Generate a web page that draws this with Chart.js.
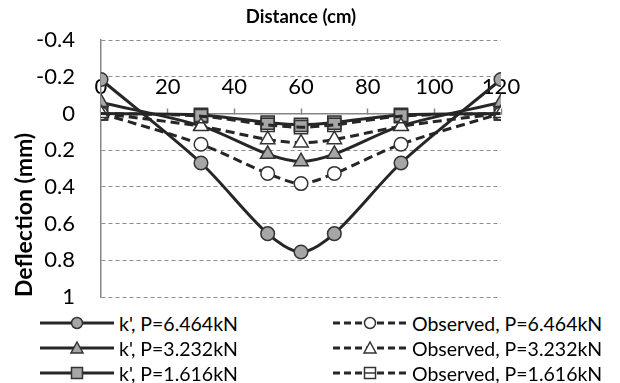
<!DOCTYPE html>
<html>
<head>
<meta charset="utf-8">
<script src="https://cdn.jsdelivr.net/npm/chart.js@4.4.1/dist/chart.umd.min.js"></script>
<style>
  html, body { margin: 0; padding: 0; background: #fff; }
  #wrap { position: relative; width: 620px; height: 383px; overflow: hidden; }
  #chart-box { position: absolute; left: 0; top: 0; width: 620px; height: 310px; }
  .key { position: absolute; height: 22px; display: flex; align-items: center;
         font-family: Lato, sans-serif; font-size: 19.5px; color: #000; white-space: nowrap; }
  .key canvas { margin-right: 5px; }
</style>
</head>
<body>
<div id="wrap">
  <div id="chart-box"><canvas id="deflection-chart"></canvas></div>
  <div id="legend"></div>
</div>
<script>
// distance along the beam (cm)
const distances = [0, 30, 50, 60, 70, 90, 120];

// deflection (mm)
const k6464 = [-0.185, 0.27, 0.655, 0.755, 0.655, 0.27, -0.185];
const k3232 = [-0.06, 0.068, 0.222, 0.262, 0.222, 0.068, -0.06];
const k1616 = [0, 0.008, 0.05, 0.062, 0.05, 0.008, 0];
const obs6464 = [0, 0.168, 0.327, 0.382, 0.327, 0.168, 0];
const obs3232 = [0, 0.07, 0.142, 0.16, 0.142, 0.07, 0];
const obs1616 = [0, 0.015, 0.062, 0.075, 0.062, 0.015, 0];

const xTicks = [0, 20, 40, 60, 80, 100, 120];
const yTicks = ['-0.4', '-0.2', '0', '0.2', '0.4', '0.6', '0.8', '1'];

const LINE = '#262626';
const GREY = '#a6a6a6';
const AXIS = '#868686';
const FONT = 'Lato, "Open Sans", sans-serif';

const seriesList = [
  { label: "k', P=6.464kN", values: k6464, shape: 'circle', fill: GREY, dashed: false, col: 0, row: 0 },
  { label: "k', P=3.232kN", values: k3232, shape: 'triangle', fill: GREY, dashed: false, col: 0, row: 1 },
  { label: "k', P=1.616kN", values: k1616, shape: 'rect', fill: GREY, dashed: false, col: 0, row: 2 },
  { label: 'Observed, P=6.464kN', values: obs6464, shape: 'circle', fill: '#ffffff', dashed: true, col: 1, row: 0 },
  { label: 'Observed, P=3.232kN', values: obs3232, shape: 'triangle', fill: '#ffffff', dashed: true, col: 1, row: 1 },
  { label: 'Observed, P=1.616kN', values: obs1616, shape: 'rect', fill: 'rgba(255,255,255,0)', dashed: true, col: 1, row: 2 }
];

const radiusFor = { circle: 6.8, triangle: 8.3, rect: 9.3 };

const datasets = seriesList.map((s, i) => ({
  label: s.label,
  data: distances.map((d, j) => ({ x: d, y: s.values[j] })),
  xAxisID: 'x',
  yAxisID: 'y',
  borderColor: LINE,
  borderWidth: 3,
  borderDash: s.dashed ? [9, 5] : [],
  tension: 0.3,
  fill: false,
  pointStyle: s.shape,
  pointRadius: radiusFor[s.shape],
  pointBackgroundColor: s.fill,
  pointBorderColor: '#333333',
  pointBorderWidth: 1.5,
  order: seriesList.length - i
}));

new Chart(document.getElementById('deflection-chart'), {
  type: 'line',
  data: { datasets: datasets },
  options: {
    responsive: true,
    maintainAspectRatio: false,
    animation: false,
    layout: { padding: { left: 0, right: 119, top: 0, bottom: 13 } },
    plugins: {
      legend: { display: false },
      tooltip: { enabled: false },
      title: {
        display: true,
        text: 'Distance (cm)',
        fullSize: false,
        color: '#000',
        font: { family: FONT, size: 18.5, weight: 'bold' },
        padding: { top: 6, bottom: 11.8 }
      }
    },
    scales: {
      // axis line at y = 0 with small upward tick marks, under the series
      x: {
        type: 'linear',
        position: { y: 0 },
        min: xTicks[0],
        max: xTicks[xTicks.length - 1],
        afterBuildTicks: scale => { scale.ticks = xTicks.map(v => ({ value: v })); },
        ticks: { display: false },
        grid: { drawOnChartArea: false, drawTicks: true, tickLength: -6, tickColor: AXIS, tickWidth: 1.5 },
        border: { display: true, color: AXIS, width: 1.5 }
      },
      // distance labels, drawn over the series like in the original
      xLabels: {
        type: 'linear',
        axis: 'x',
        position: { y: 0 },
        z: 1,
        min: xTicks[0],
        max: xTicks[xTicks.length - 1],
        afterBuildTicks: scale => { scale.ticks = xTicks.map(v => ({ value: v })); },
        ticks: { padding: -48, maxRotation: 0, color: '#000', font: { family: FONT, size: 22 } },
        grid: { display: false },
        border: { display: false }
      },
      y: {
        type: 'linear',
        position: 'left',
        reverse: true,
        min: -0.4,
        max: 1,
        afterBuildTicks: scale => { scale.ticks = yTicks.map(t => ({ value: parseFloat(t) })); },
        afterFit: scale => {
          scale.width = 73;
          // the label gap should not push the plot area in from top and bottom
          scale.paddingTop = 13;
          scale.paddingBottom = 13;
        },
        ticks: {
          padding: 26,
          color: '#000',
          font: { family: FONT, size: 22 },
          callback: (v, i) => yTicks[i]
        },
        grid: { color: '#8c8c8c', lineWidth: 1, drawTicks: false },
        border: { display: true, color: AXIS, width: 1.5, dash: [4, 3] }
      },
      yTitle: {
        type: 'linear',
        position: 'left',
        weight: 1,
        min: 0,
        max: 1,
        afterFit: scale => {
          scale.width = 28;
          scale.paddingTop = 0;
          scale.paddingBottom = 0;
        },
        ticks: { display: false },
        grid: { display: false },
        border: { display: false },
        title: {
          display: true,
          text: 'Deflection (mm)',
          align: 'start',
          color: '#000',
          font: { family: FONT, size: 23, weight: 'bold' },
          padding: { top: 11, bottom: 0 }
        }
      }
    }
  }
});

// legend: line sample with marker, then the label
function drawKey(canvas, s) {
  const ctx = canvas.getContext('2d');
  const w = canvas.width, h = canvas.height, cy = h / 2, cx = w / 2;
  ctx.strokeStyle = LINE;
  ctx.lineWidth = 3;
  ctx.setLineDash(s.dashed ? [7, 4] : []);
  ctx.beginPath();
  ctx.moveTo(0, cy);
  ctx.lineTo(w, cy);
  ctx.stroke();
  ctx.setLineDash([]);
  ctx.fillStyle = s.fill;
  ctx.strokeStyle = '#333333';
  ctx.lineWidth = 1.5;
  ctx.beginPath();
  if (s.shape === 'circle') {
    ctx.arc(cx, cy, 5.5, 0, Math.PI * 2);
  } else if (s.shape === 'triangle') {
    ctx.moveTo(cx, cy - 6);
    ctx.lineTo(cx + 6, cy + 5);
    ctx.lineTo(cx - 6, cy + 5);
    ctx.closePath();
  } else {
    ctx.rect(cx - 5.5, cy - 5.5, 11, 11);
  }
  if (s.dashed && s.shape === 'rect') {
    ctx.fillStyle = '#ffffff';
    ctx.fill();
    ctx.stroke();
    ctx.beginPath();
    ctx.moveTo(cx - 5.5, cy);
    ctx.lineTo(cx + 5.5, cy);
  } else {
    ctx.fill();
  }
  ctx.stroke();
}

const legendBox = document.getElementById('legend');
const colLeft = [40, 333];
const rowTop = [312, 337, 362];
seriesList.forEach(s => {
  const item = document.createElement('div');
  item.className = 'key';
  item.style.left = colLeft[s.col] + 'px';
  item.style.top = rowTop[s.row] + 'px';
  const c = document.createElement('canvas');
  c.width = 74;
  c.height = 20;
  drawKey(c, s);
  const t = document.createElement('span');
  t.textContent = s.label;
  item.appendChild(c);
  item.appendChild(t);
  legendBox.appendChild(item);
});
</script>
</body>
</html>
